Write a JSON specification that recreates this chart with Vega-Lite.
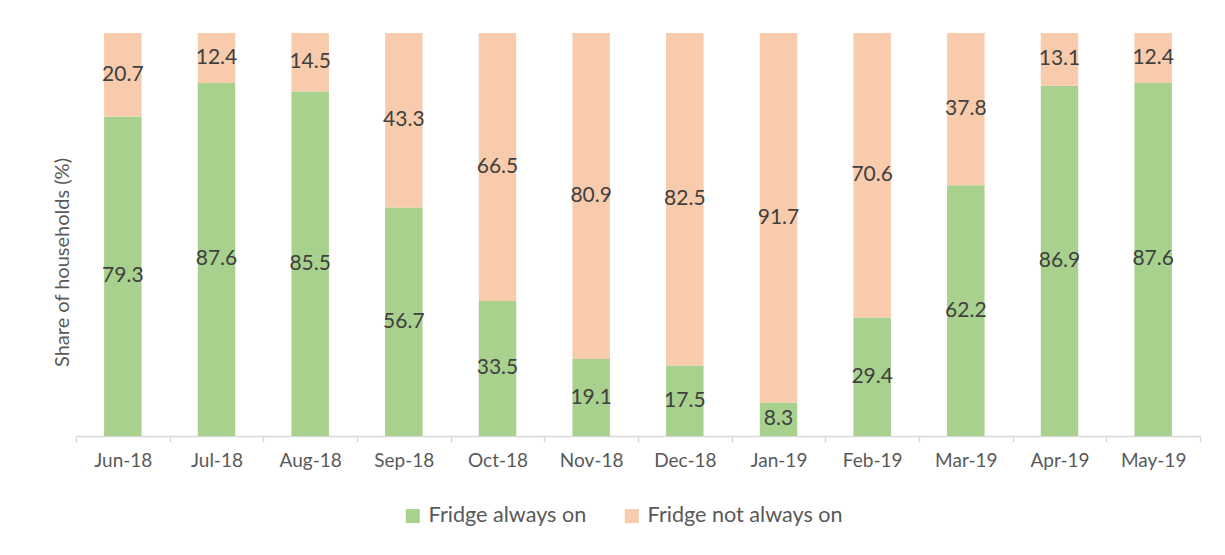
{
  "$schema": "https://vega.github.io/schema/vega-lite/v6.json",
  "width": 1124,
  "height": 403,
  "autosize": "none",
  "padding": {"left": 76, "top": 33, "right": 25, "bottom": 119},
  "background": "white",
  "config": {"view": {"stroke": null}, "font": "Lato"},
  "data": {"values": [
    {"month": "Jun-18", "series": "Fridge always on", "ord": 1, "value": 79.3},
    {"month": "Jun-18", "series": "Fridge not always on", "ord": 2, "value": 20.7},
    {"month": "Jul-18", "series": "Fridge always on", "ord": 1, "value": 87.6},
    {"month": "Jul-18", "series": "Fridge not always on", "ord": 2, "value": 12.4},
    {"month": "Aug-18", "series": "Fridge always on", "ord": 1, "value": 85.5},
    {"month": "Aug-18", "series": "Fridge not always on", "ord": 2, "value": 14.5},
    {"month": "Sep-18", "series": "Fridge always on", "ord": 1, "value": 56.7},
    {"month": "Sep-18", "series": "Fridge not always on", "ord": 2, "value": 43.3},
    {"month": "Oct-18", "series": "Fridge always on", "ord": 1, "value": 33.5},
    {"month": "Oct-18", "series": "Fridge not always on", "ord": 2, "value": 66.5},
    {"month": "Nov-18", "series": "Fridge always on", "ord": 1, "value": 19.1},
    {"month": "Nov-18", "series": "Fridge not always on", "ord": 2, "value": 80.9},
    {"month": "Dec-18", "series": "Fridge always on", "ord": 1, "value": 17.5},
    {"month": "Dec-18", "series": "Fridge not always on", "ord": 2, "value": 82.5},
    {"month": "Jan-19", "series": "Fridge always on", "ord": 1, "value": 8.3},
    {"month": "Jan-19", "series": "Fridge not always on", "ord": 2, "value": 91.7},
    {"month": "Feb-19", "series": "Fridge always on", "ord": 1, "value": 29.4},
    {"month": "Feb-19", "series": "Fridge not always on", "ord": 2, "value": 70.6},
    {"month": "Mar-19", "series": "Fridge always on", "ord": 1, "value": 62.2},
    {"month": "Mar-19", "series": "Fridge not always on", "ord": 2, "value": 37.8},
    {"month": "Apr-19", "series": "Fridge always on", "ord": 1, "value": 86.9},
    {"month": "Apr-19", "series": "Fridge not always on", "ord": 2, "value": 13.1},
    {"month": "May-19", "series": "Fridge always on", "ord": 1, "value": 87.6},
    {"month": "May-19", "series": "Fridge not always on", "ord": 2, "value": 12.4}
  ]},
  "transform": [
    {"stack": "value", "groupby": ["month"], "sort": [{"field": "ord", "order": "ascending"}], "as": ["v0", "v1"]},
    {"calculate": "(datum.v0 + datum.v1) / 2", "as": "vmid"}
  ],
  "encoding": {
    "x": {
      "field": "month", "type": "nominal", "sort": null,
      "scale": {"paddingInner": 0, "paddingOuter": 0},
      "axis": {
        "title": null, "labelAngle": 0, "labelFontSize": 19, "labelColor": "#595959",
        "labelPadding": 9, "tickBand": "extent", "tickSize": 6, "tickColor": "#d9d9d9",
        "tickWidth": 1.5, "domainColor": "#d9d9d9", "domainWidth": 1.5, "grid": false
      }
    }
  },
  "layer": [
    {
      "mark": {"type": "bar", "width": {"band": 0.4}},
      "encoding": {
        "y": {
          "field": "v0", "type": "quantitative", "scale": {"domain": [0, 100]},
          "axis": {
            "title": "Share of households (%)", "labels": false, "ticks": false, "domain": false,
            "grid": false, "titleFontSize": 20, "titleColor": "#595959", "titleFontWeight": "normal",
            "titlePadding": 4, "titleY": 229
          }
        },
        "y2": {"field": "v1"},
        "color": {
          "field": "series", "type": "nominal",
          "scale": {"domain": ["Fridge always on", "Fridge not always on"], "range": ["#A9D18E", "#F8CBAD"]},
          "legend": {
            "title": null, "orient": "none", "direction": "horizontal", "legendX": 326, "legendY": 472,
            "symbolType": "square", "symbolSize": 196, "symbolStrokeWidth": 0,
            "labelFontSize": 21.6, "labelLimit": 400, "labelColor": "#595959", "labelOffset": 5, "columnPadding": 34
          }
        }
      }
    },
    {
      "mark": {"type": "text", "fontSize": 21, "color": "#404040", "baseline": "middle", "align": "center"},
      "encoding": {
        "y": {"field": "vmid", "type": "quantitative"},
        "text": {"field": "value", "type": "quantitative", "format": ".1f"}
      }
    }
  ]
}
